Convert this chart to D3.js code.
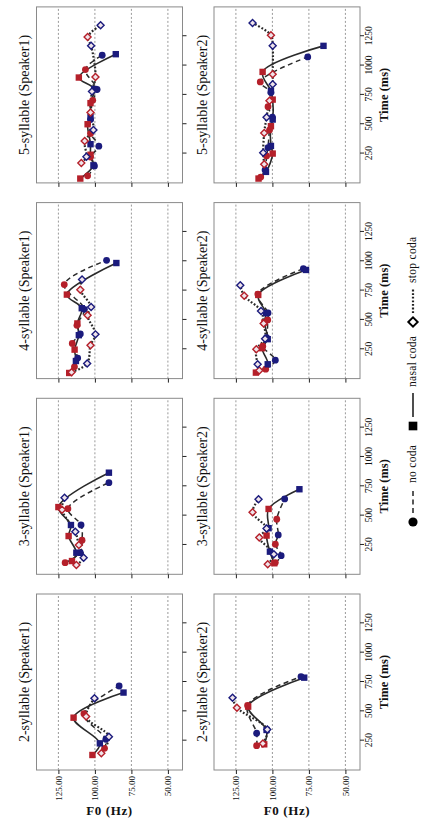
<!DOCTYPE html>
<html>
<head>
<meta charset="utf-8">
<title>F0 contours by syllable count</title>
<script src="https://d3js.org/d3.v7.min.js"></script>
<style>
  body { margin: 0; background: #fff; }
  text { font-family: "Liberation Serif", "DejaVu Serif", serif; fill: #111; }
</style>
</head>
<body>
<script>
// [time (ms), F0 (Hz)] -- points alternate red / blue along each contour
const sp1_2_none  = [[185,93.4],[262,92.5],[480,107.5],[716,83.4]];
const sp1_2_nasal = [[128,101.7],[227,96.6],[446,114.6],[660,80.4]];
const sp1_2_stop  = [[142,95.6],[284,90.4],[455,106],[611,100.3]];

const sp2_2_none  = [[207,110.8],[313,110.8],[550,117],[795,80.4]];
const sp2_2_nasal = [[219,105.6],[341,104],[540,116.6],[787,78.2]];
const sp2_2_stop  = [[225,106.5],[345,103.5],[531,124.3],[616,127.3]];

const sp1_3_none  = [[99,120.4],[184,110],[290,108.8],[420,109.5],[559,118.5],[781,90.4]];
const sp1_3_nasal = [[113,115.7],[184,112.7],[326,118],[420,116.4],[573,125],[866,90.4]];
const sp1_3_stop  = [[79,112.7],[142,107.7],[250,111],[363,113.4],[550,122.5],[653,120.8]];

const sp2_3_none  = [[100,98],[159,94],[256,98],[336,96],[469,97],[642,91.6]];
const sp2_3_nasal = [[94,98.7],[193,101.7],[330,104],[393,102.6],[557,102.6],[725,81.5]];
const sp2_3_stop  = [[85,103.2],[170,99],[313,109],[390,104],[528,113.6],[639,109.5]];

const sp1_4_none  = [[100,114],[175,111.8],[300,115.5],[380,110],[454,112.3],[590,107.2],[801,121],[1008,92]];
const sp1_4_nasal = [[48,117.6],[150,113],[247,113.9],[370,111],[470,112],[600,109],[716,119.2],[985,85.3]];
const sp1_4_stop  = [[55,116],[128,105.3],[284,103],[377,99.6],[539,105],[610,102.6],[758,110],[844,108.8]];

const sp2_4_none  = [[80,104.6],[157,98],[276,106.6],[350,104],[500,103.2],[560,103],[720,110],[937,78.8]];
const sp2_4_nasal = [[51,111.3],[122,103.2],[259,107],[336,103.2],[478,105.5],[558,104.4],[713,109.7],[926,77]];
const sp2_4_stop  = [[70,109],[122,110.1],[250,111],[340,105],[470,106],[577,107.8],[706,119.3],[796,122]];

const sp1_5_none  = [[60,105],[145,100.3],[220,103],[313,97.3],[420,103],[540,103],[704,101.5],[796,98.5],[966,106.5],[1088,95]];
const sp1_5_nasal = [[37,110],[150,101],[240,103],[330,103],[500,105],[560,103],[680,103],[800,100.5],[898,111],[1097,85.7]];
const sp1_5_stop  = [[170,109.3],[222,105.8],[358,107],[450,101],[600,103],[780,102],[903,99.6],[1168,102.6],[1244,105],[1344,96.1]];

const sp2_5_none  = [[50,108],[110,105],[230,104],[300,103],[450,102],[560,100],[650,103],[770,101],[861,108.3],[1074,75.8]];
const sp2_5_nasal = [[37,109.5],[94,104.4],[250,99.8],[315,101],[483,101],[540,99.8],[710,99.8],[784,101],[946,106.7],[1168,65]];
const sp2_5_stop  = [[159,105.6],[256,106.3],[426,105.6],[560,104],[700,102],[841,99.8],[926,99.8],[1168,99.8],[1259,101],[1363,113.6]];

const syllables = ["2-syllable", "3-syllable", "4-syllable", "5-syllable"];
const speakers = ["Speaker1", "Speaker2"];
const timeTicks = [250, 500, 750, 1000, 1250];
const f0Ticks = [50, 75, 100, 125];
const seriesNames = ["no coda", "nasal coda", "stop coda"];

const data = [
    [[sp1_2_none, sp1_2_nasal, sp1_2_stop], [sp1_3_none, sp1_3_nasal, sp1_3_stop],
     [sp1_4_none, sp1_4_nasal, sp1_4_stop], [sp1_5_none, sp1_5_nasal, sp1_5_stop]],
    [[sp2_2_none, sp2_2_nasal, sp2_2_stop], [sp2_3_none, sp2_3_nasal, sp2_3_stop],
     [sp2_4_none, sp2_4_nasal, sp2_4_stop], [sp2_5_none, sp2_5_nasal, sp2_5_stop]]
];

// the figure is laid out landscape and then turned a quarter left
const W = 837, H = 429;
const pw = 176, ph = 146;
const colX = i => 67 + i * 195.7;
const rowY = [36.5, 214];
const red = "#b5202a", blue = "#1b1b7d";
const dash = ["5,3.5", null, "1.8,1.8"];
const lineW = [1.5, 1.6, 2.2];

const svg = d3.select("body").append("svg")
    .attr("width", H)
    .attr("height", W)
    .style("background", "#fff");
const root = svg.append("g").attr("transform", `translate(0,${W}) rotate(-90)`);

const x = d3.scaleLinear().domain([0, 1500]).range([0, pw]);
const y = d3.scaleLinear().domain([40, 140]).range([ph, 0]);
const line = d3.line().x(d => x(d[0])).y(d => y(d[1])).curve(d3.curveCatmullRom.alpha(0.5));

function marker(g, kind, col, fill) {
    if (kind === 0) {
        g.append("circle").attr("r", 3.4).attr("fill", col);
    } else if (kind === 1) {
        g.append("rect").attr("x", -3.2).attr("y", -3.2).attr("width", 6.4).attr("height", 6.4).attr("fill", col);
    } else {
        g.append("path").attr("d", "M0,-3.5L3.5,0L0,3.5L-3.5,0Z")
            .attr("fill", fill || "#efe4ea").attr("stroke", col).attr("stroke-width", 1.4);
    }
}

speakers.forEach((sp, r) => {
    syllables.forEach((syl, c) => {
        const g = root.append("g").attr("transform", `translate(${colX(c)},${rowY[r]})`);

        g.append("rect").attr("width", pw).attr("height", ph)
            .attr("fill", "#fff").attr("stroke", "#8a8a8a").attr("stroke-width", 1);

        g.selectAll("line.grid").data(f0Ticks).join("line")
            .attr("class", "grid")
            .attr("x1", 0).attr("x2", pw)
            .attr("y1", d => y(d)).attr("y2", d => y(d))
            .attr("stroke", "#9a9a9a").attr("stroke-dasharray", "2,2");

        const ax = g.append("g").attr("transform", `translate(0,${ph})`)
            .call(d3.axisBottom(x).tickValues(timeTicks).tickSize(4)
                .tickFormat(r === 1 ? d3.format("d") : ""));
        const ay = g.append("g")
            .call(d3.axisLeft(y).tickValues(f0Ticks).tickSize(4)
                .tickFormat(c === 0 ? d3.format(".2f") : ""));
        [ax, ay].forEach(a => {
            a.select(".domain").remove();
            a.selectAll(".tick line").attr("stroke", "#222");
            a.selectAll("text").attr("font-family", "Liberation Serif").attr("fill", "#111");
        });
        ax.selectAll("text").attr("font-size", 9.5).attr("dy", "0.55em");
        ay.selectAll("text").attr("font-size", 9).attr("x", -6);

        g.append("text").attr("x", pw / 2).attr("y", -7.5)
            .attr("text-anchor", "middle").attr("font-size", 14)
            .text(`${syl} (${sp})`);

        if (r === 1) {
            g.append("text").attr("x", pw / 2).attr("y", ph + 28)
                .attr("text-anchor", "middle").attr("font-size", 12.5).attr("font-weight", "bold")
                .text("Time (ms)");
        }
        if (c === 0) {
            g.append("text")
                .attr("transform", `translate(-42,${ph / 2}) rotate(90)`)
                .attr("text-anchor", "middle").attr("dominant-baseline", "middle")
                .attr("font-size", 13).attr("font-weight", "bold").attr("letter-spacing", 0.6)
                .text("F0 (Hz)");
        }

        const series = data[r][c];
        series.forEach((pts, k) => {
            g.append("path").datum(pts).attr("d", line)
                .attr("fill", "none").attr("stroke", "#2a2a2a")
                .attr("stroke-width", lineW[k])
                .attr("stroke-dasharray", dash[k]);
        });
        series.forEach((pts, k) => {
            pts.forEach((p, i) => {
                const m = g.append("g").attr("transform", `translate(${x(p[0])},${y(p[1])})`);
                marker(m, k, i % 2 === 0 ? red : blue);
            });
        });
    });
});

// legend along the bottom edge of the landscape figure
const leg = root.append("g").attr("transform", "translate(315,413)");
const legX = [0, 96, 200];
seriesNames.forEach((name, k) => {
    const lg = leg.append("g").attr("transform", `translate(${legX[k]},0)`);
    const m = lg.append("g").attr("transform", "scale(1.35)");
    marker(m, k, "#000", "#fff");
    lg.append("line").attr("x1", 9).attr("x2", 33).attr("y1", 0).attr("y2", 0)
        .attr("stroke", "#222").attr("stroke-width", lineW[k]).attr("stroke-dasharray", dash[k]);
    lg.append("text").attr("x", 39).attr("y", 0).attr("dominant-baseline", "middle")
        .attr("font-size", 11.5).attr("letter-spacing", 0.3).text(name);
});
</script>
</body>
</html>
